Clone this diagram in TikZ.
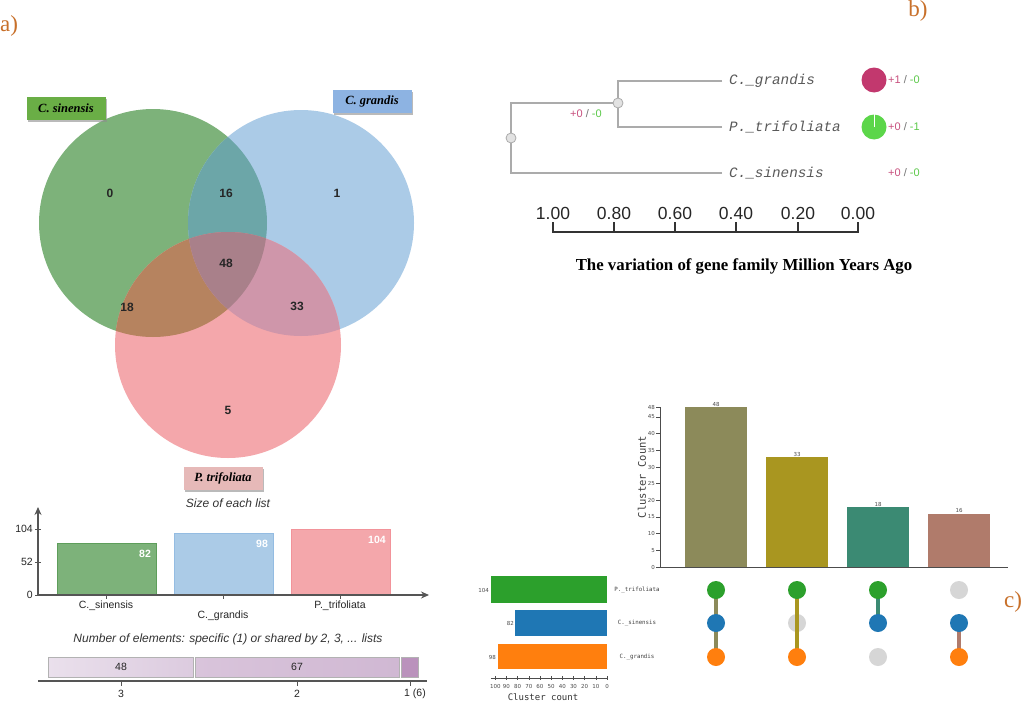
\documentclass[tikz,border=0pt]{standalone}
\usepackage{fontspec}
\setmainfont{Liberation Serif}
\newfontfamily\arialf{Liberation Sans}
\newfontfamily\courf{Liberation Mono}
\newfontfamily\dvmono{DejaVu Sans Mono}
\newfontfamily\dvsans{DejaVu Sans}
\usetikzlibrary{arrows.meta,shadows}
\pgfdeclarelayer{bg}
\pgfdeclarelayer{paper}
\pgfsetlayers{paper,bg,main}
\definecolor{panelc}{HTML}{C8702A}
\definecolor{vgreen}{HTML}{7DB27A}
\definecolor{vblue}{HTML}{ABCBE7}
\definecolor{vpink}{HTML}{F4A7AB}
\definecolor{vgb}{HTML}{6CA6A8}
\definecolor{vgp}{HTML}{B6835F}
\definecolor{vbp}{HTML}{CF96AA}
\definecolor{vgbp}{HTML}{A9808A}
\definecolor{lgreen}{HTML}{6AAE46}
\definecolor{lblue}{HTML}{8DB3E2}
\definecolor{lpink}{HTML}{E6B9B8}
\definecolor{bgreenb}{HTML}{5E9E5B}
\definecolor{bblueb}{HTML}{94BCE2}
\definecolor{bpinkb}{HTML}{F2939A}
\definecolor{axisc}{HTML}{555555}
\definecolor{treel}{HTML}{ABABAB}
\definecolor{tnode}{HTML}{E2E2E2}
\definecolor{tpink}{HTML}{C8507E}
\definecolor{tgreen}{HTML}{5CC94A}
\definecolor{tmag}{HTML}{C2386E}
\definecolor{tgc}{HTML}{5CD64A}
\definecolor{ub1}{HTML}{8C8A5A}
\definecolor{ub2}{HTML}{A99620}
\definecolor{ub3}{HTML}{3B8A73}
\definecolor{ub4}{HTML}{B07B6B}
\definecolor{mgreen}{HTML}{2CA02C}
\definecolor{mblue}{HTML}{1F77B4}
\definecolor{morange}{HTML}{FF7F0E}
\definecolor{mgray}{HTML}{D6D6D6}
\definecolor{st1a}{HTML}{EAE0EC}
\definecolor{st1b}{HTML}{DCCBDF}
\definecolor{st2a}{HTML}{D9C4DB}
\definecolor{st2b}{HTML}{D0B8D3}
\definecolor{st3}{HTML}{BA92BC}
\tikzset{
  panel/.style={font=\fontsize{23}{23}\selectfont, text=panelc, inner sep=0pt},
  vnum/.style={font=\arialf\bfseries\fontsize{12}{12}\selectfont, text=black!85, inner sep=0pt},
  vlab/.style={font=\bfseries\itshape\fontsize{12.5}{12.5}\selectfont, minimum width=79pt, minimum height=23pt, inner sep=0pt,
     drop shadow={shadow xshift=1.5pt, shadow yshift=-2pt, fill=black!45, opacity=0.6}},
  ctext/.style={font=\arialf\itshape\fontsize{12}{12}\selectfont, text=black!80, inner sep=0pt},
  smalltext/.style={font=\arialf\fontsize{10.5}{10.5}\selectfont, text=black!85, inner sep=0pt},
  barval/.style={font=\arialf\bfseries\fontsize{10.5}{10.5}\selectfont, text=white, inner sep=0pt},
  axisline/.style={draw=axisc, line width=1.2pt},
  treeline/.style={draw=treel, line width=1.6pt},
  treenode/.style={circle, draw=treel, fill=tnode, line width=0.8pt, minimum size=10pt, inner sep=0pt},
  leaflab/.style={font=\courf\itshape\fontsize{14.3}{14.3}\selectfont, text=black!65, anchor=west, inner sep=0pt},
  gl/.style={font=\arialf\fontsize{11}{11}\selectfont, anchor=west, inner sep=0pt},
  scalelab/.style={font=\arialf\fontsize{17.5}{17.5}\selectfont, text=black!85, inner sep=0pt},
  tiny/.style={font=\dvsans\fontsize{5.5}{5.5}\selectfont, text=black!70, inner sep=0pt},
  tinymono/.style={font=\dvmono\fontsize{5.8}{5.8}\selectfont, text=black!75, inner sep=0pt},
  dot/.style={circle, minimum size=18pt, inner sep=0pt},
  conn/.style={line width=4.5pt}
}
\begin{document}
\begin{tikzpicture}[x=1pt, y=-1pt]
\useasboundingbox (0,0) rectangle (1024,701);
\begin{pgfonlayer}{paper}
  \fill[white] (0,0) rectangle (1024,701);
\end{pgfonlayer}

% ---------- panel labels
\node[panel, anchor=west] (pa) at (0,26) {a)};
\node[panel] (pb) at (918,11) {b)};
\node[panel] (pc) at (1013,602) {c)};

% ---------- Venn diagram
\fill[vgreen] (153,223) circle (114pt);
\fill[vblue] (301,223) circle (113pt);
\fill[vpink] (228,345) circle (113pt);
\begin{scope}
  \clip (153,223) circle (114pt);
  \fill[vgb] (301,223) circle (113pt);
  \fill[vgp] (228,345) circle (113pt);
\end{scope}
\begin{scope}
  \clip (301,223) circle (113pt);
  \fill[vbp] (228,345) circle (113pt);
\end{scope}
\begin{scope}
  \clip (153,223) circle (114pt);
  \clip (301,223) circle (113pt);
  \fill[vgbp] (228,345) circle (113pt);
\end{scope}
\node[vnum] (n0) at (110,193) {0};
\node[vnum] (n16) at (226,193) {16};
\node[vnum] (n1) at (337,193) {1};
\node[vnum] (n48) at (226,263) {48};
\node[vnum] (n18) at (127,307) {18};
\node[vnum] (n33) at (297,306) {33};
\node[vnum] (n5) at (228,410) {5};
\node[vlab, fill=lgreen] (lsin) at (66,108) {C. sinensis};
\node[vlab, fill=lblue] (lgra) at (372,101) {C. grandis};
\node[vlab, fill=lpink] (ltri) at (223,478) {P. trifoliata};

% ---------- Size of each list
\node[ctext] (sz) at (228,503) {Size of each list};
\draw[bgreenb, fill=vgreen, line width=0.8pt] (57,595) rectangle (156,543);
\draw[bblueb, fill=vblue, line width=0.8pt] (174,595) rectangle (273,533);
\draw[bpinkb, fill=vpink, line width=0.8pt] (291,595) rectangle (390,529);
\draw[axisline, -{Stealth[length=8pt,width=7pt]}] (38,595) -- (38,507);
\draw[axisline, -{Stealth[length=8pt,width=7pt]}] (38,595) -- (429,595);
\foreach \yy/\lab in {595/0, 562/52, 529/104} {
  \draw[axisc, line width=0.8pt] (35,\yy) -- (41,\yy);
  \node[smalltext, anchor=east] (yt\lab) at (33,\yy) {\lab};
}
\foreach \xx in {106,223,340} \draw[axisc, line width=0.6pt] (\xx,595) -- (\xx,599);
\node[barval] (v82) at (145,554) {82};
\node[barval] (v98) at (262,544) {98};
\node[barval] (v104) at (377,540) {104};
\node[smalltext] (csin) at (106,606) {C.\_sinensis};
\node[smalltext] (cgra) at (223,616) {C.\_grandis};
\node[smalltext] (ctri) at (340,606) {P.\_trifoliata};

% ---------- number of elements
\node[ctext] (ne) at (228,639) {Number of elements: specific (1) or shared by 2, 3, ... lists};
\shade[left color=st1a, right color=st1b] (48,657) rectangle (193,677);
\draw[black!30, line width=0.6pt] (48,657) rectangle (193,677);
\shade[left color=st2a, right color=st2b] (195,657) rectangle (399,677);
\draw[black!30, line width=0.6pt] (195,657) rectangle (399,677);
\fill[st3] (401,657) rectangle (418,677);
\draw[black!30, line width=0.6pt] (401,657) rectangle (418,677);
\node[smalltext] (s48) at (121,667) {48};
\node[smalltext] (s67) at (297,667) {67};
\draw[axisc, line width=1.2pt] (38,681) -- (427,681);
\foreach \xx in {121,297,410} \draw[axisc, line width=0.6pt] (\xx,681) -- (\xx,686);
\node[smalltext] (k3) at (121,694) {3};
\node[smalltext] (k2) at (297,694) {2};
\node[smalltext] (k1) at (415,694) {1 (6)};

% ---------- tree (b)
\coordinate (rootc) at (511,138);
\coordinate (innc) at (618,103);
\coordinate (eg) at (722,81);
\coordinate (ep) at (722,127);
\coordinate (es) at (722,173);
\draw[treeline] (eg) -| (innc);
\draw[treeline] (ep) -| (innc);
\draw[treeline] (innc) -| (rootc);
\draw[treeline] (es) -| (rootc);
\node[treenode] (root) at (rootc) {};
\node[treenode] (inn) at (innc) {};
\node[leaflab] (tg) at (729,81) {C.\_grandis};
\node[leaflab] (tp) at (729,127) {P.\_trifoliata};
\node[leaflab] (ts) at (729,173) {C.\_sinensis};
\node[gl] (ginn) at (570,114) {\textcolor{tpink}{+0} \textcolor{black!55}{/} \textcolor{tgreen}{-0}};
\node[circle, fill=tmag, minimum size=25pt, inner sep=0pt] (cg) at (874,80) {};
\node[circle, fill=tgc, minimum size=25pt, inner sep=0pt] (cp) at (874,127) {};
\draw[white, line width=0.7pt] (cp.center) -- (cp.north);
\node[gl] (gg) at (888,80) {\textcolor{tpink}{+1} \textcolor{black!55}{/} \textcolor{tgreen}{-0}};
\node[gl] (gp) at (888,127) {\textcolor{tpink}{+0} \textcolor{black!55}{/} \textcolor{tgreen}{-1}};
\node[gl] (gs) at (888,173) {\textcolor{tpink}{+0} \textcolor{black!55}{/} \textcolor{tgreen}{-0}};
\draw[black!80, line width=1.3pt] (553,222) -- (553,232) -- (858,232) -- (858,222);
\foreach \xx/\lab [count=\i] in {553/1.00, 614/0.80, 675/0.60, 736/0.40, 798/0.20, 858/0.00} {
  \draw[black!80, line width=1.3pt] (\xx,232) -- (\xx,222);
  \node[scalelab] (sc\i) at (\xx,213) {\lab};
}
\node[font=\bfseries\fontsize{16.8}{16.8}\selectfont, inner sep=0pt] (ttl) at (744,266) {The variation of gene family Million Years Ago};

% ---------- UpSet (c)
\fill[ub1] (685,567) rectangle (747,407);
\fill[ub2] (766,567) rectangle (828,457);
\fill[ub3] (847,567) rectangle (909,507);
\fill[ub4] (928,567) rectangle (990,513.7);
\draw[black!70, line width=0.8pt] (660,407) -- (660,567) -- (1008,567);
\foreach \v in {0,5,...,45,48} {
  \draw[black!70, line width=0.6pt] (656,{567-\v*3.3333}) -- (660,{567-\v*3.3333});
  \node[tiny, anchor=east] (uy\v) at (655,{567-\v*3.3333}) {\v};
}
\node[tiny] (u48) at (716,404) {48};
\node[tiny] (u33) at (797,454) {33};
\node[tiny] (u18) at (878,504) {18};
\node[tiny] (u16) at (959,510.5) {16};
\node[font=\dvmono\fontsize{10.5}{10.5}\selectfont, text=black!75, rotate=90, inner sep=0pt] (ucc) at (642,477) {Cluster Count};

% matrix dots
\node[dot, fill=mgreen] (a1) at (716,590) {};
\node[dot, fill=mblue] (a2) at (716,623) {};
\node[dot, fill=morange] (a3) at (716,657) {};
\node[dot, fill=mgreen] (b1) at (797,590) {};
\node[dot, fill=morange] (b3) at (797,657) {};
\node[dot, fill=mgreen] (c1) at (878,590) {};
\node[dot, fill=mblue] (c2) at (878,623) {};
\node[dot, fill=mgray] (c3) at (878,657) {};
\node[dot, fill=mgray] (d1) at (959,590) {};
\node[dot, fill=mblue] (d2) at (959,623) {};
\node[dot, fill=morange] (d3) at (959,657) {};
\begin{pgfonlayer}{bg}
  \node[dot, fill=mgray] (b2) at (797,623) {};
  \draw[conn, ub1] (a1.center) -- (a3.center);
  \draw[conn, ub2] (b1.center) -- (b3.center);
  \draw[conn, ub3] (c1.center) -- (c2.center);
  \draw[conn, ub4] (d2.center) -- (d3.center);
\end{pgfonlayer}

% left set-size bars
\fill[mgreen] (490.8,576) rectangle (607,603);
\fill[mblue] (515.4,610) rectangle (607,636);
\fill[morange] (497.5,644) rectangle (607,669);
\node[tiny, anchor=east] (h104) at (489,590) {104};
\node[tiny, anchor=east] (h82) at (514,623) {82};
\node[tiny, anchor=east] (h98) at (496,657) {98};
\node[tinymono] (rt) at (637,590) {P.\_trifoliata};
\node[tinymono] (rs) at (637,623) {C.\_sinensis};
\node[tinymono] (rg) at (637,657) {C.\_grandis};
\draw[black!70, line width=0.7pt] (490.8,678) -- (607,678);
\foreach \k in {0,...,10} {
  \draw[black!70, line width=0.5pt] ({607-\k*11.17},676) -- ({607-\k*11.17},680);
  \node[tiny] (hx\k) at ({607-\k*11.17},686) {\the\numexpr\k*10\relax};
}
\node[font=\dvmono\fontsize{9}{9}\selectfont, text=black!80, inner sep=0pt] (hcc) at (543,697) {Cluster count};
\end{tikzpicture}
\end{document}
